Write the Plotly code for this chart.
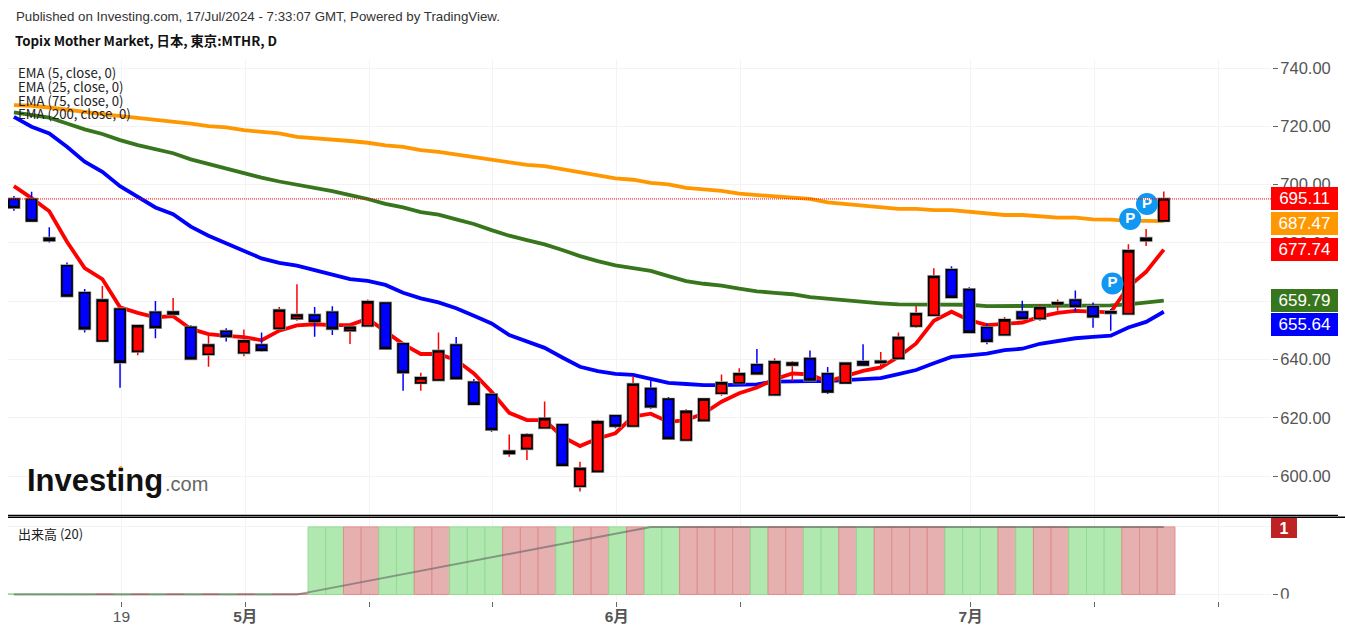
import plotly.graph_objects as go

# daily candles
opens = [695.1, 695.0, 681.6, 672.2, 662.9, 646.4, 657.3, 642.8, 656.2, 655.6, 651.1, 641.8, 649.7, 642.3, 645.0, 650.7,
         654.1, 655.3, 656.2, 650.0, 651.6, 659.4, 645.4, 632.0, 633.0, 645.0, 632.2, 628.0, 607.8, 609.4, 616.6, 617.6,
         596.5, 601.6, 620.7, 617.2, 630.0, 626.4, 612.4, 619.1, 628.4, 632.0, 638.2, 627.9, 638.1, 640.3, 635.1, 632.0,
         639.2, 639.0, 640.4, 651.5, 655.2, 670.8, 664.0, 651.0, 648.5, 656.3, 654.1, 659.1, 660.4, 658.2, 656.4, 655.7,
         680.9, 687.6]
closes = [692.2, 687.6, 680.9, 661.8, 650.6, 660.4, 639.1, 651.6, 651.0, 656.3, 640.3, 645.0, 647.9, 646.4, 643.2, 656.9,
          655.3, 653.1, 650.6, 651.1, 659.8, 643.8, 635.6, 633.7, 642.9, 633.5, 624.7, 616.0, 608.5, 614.1, 619.7, 603.7,
          602.6, 618.6, 617.2, 631.5, 623.8, 612.9, 622.2, 626.4, 632.0, 635.1, 635.1, 639.2, 638.8, 633.0, 628.9, 638.7,
          638.1, 639.4, 647.5, 655.7, 668.5, 661.4, 649.4, 646.3, 653.6, 654.1, 657.8, 659.5, 658.2, 654.7, 656.0, 677.3,
          681.6, 695.11]
highs = [696.1, 697.6, 685.4, 673.3, 664.2, 665.2, 657.3, 651.6, 660.1, 661.1, 651.8, 648.2, 650.7, 650.3, 649.3, 658.0,
         665.8, 658.0, 658.3, 651.1, 660.6, 659.6, 645.4, 635.5, 649.3, 647.7, 633.3, 628.0, 614.3, 614.7, 625.6, 617.6,
         604.9, 619.3, 620.7, 634.3, 632.9, 627.1, 622.9, 626.7, 634.9, 637.0, 643.6, 640.4, 639.5, 643.1, 637.4, 638.9,
         645.2, 642.6, 649.3, 658.4, 671.3, 672.0, 664.8, 652.4, 654.6, 660.2, 659.0, 660.6, 663.7, 659.6, 657.3, 679.6,
         684.8, 697.7]
lows = [691.1, 687.6, 680.2, 661.5, 649.3, 646.4, 630.3, 641.5, 647.3, 655.6, 640.3, 637.5, 646.2, 641.1, 642.7, 650.7,
        653.3, 647.8, 648.4, 645.3, 651.6, 643.8, 629.3, 629.3, 633.0, 633.5, 624.7, 615.2, 606.6, 605.5, 616.6, 603.7,
        594.7, 601.6, 616.4, 617.2, 623.1, 612.9, 612.4, 619.1, 627.6, 632.0, 635.1, 627.9, 632.6, 633.0, 628.2, 632.0,
        638.1, 636.6, 640.4, 650.9, 655.2, 661.4, 649.4, 645.2, 648.5, 654.1, 653.3, 656.7, 656.5, 650.9, 649.9, 655.7,
        679.0, 687.6]

ema5 = [699.5, 695.4, 690.9, 680.4, 671.4, 667.6, 657.9, 656.0, 654.5, 654.9, 650.5, 648.7, 648.1, 647.7, 646.6, 649.9,
        651.7, 652.1, 651.8, 651.8, 654.0, 649.5, 645.3, 641.9, 641.9, 639.8, 635.2, 628.9, 621.7, 619.2, 619.2, 613.5,
        610.3, 612.9, 614.7, 620.4, 621.4, 618.6, 619.2, 621.5, 625.5, 628.4, 630.4, 633.2, 635.2, 634.9, 632.4, 634.3,
        636.1, 637.3, 640.9, 645.5, 653.3, 656.4, 653.5, 651.8, 652.2, 652.7, 654.7, 656.0, 656.7, 656.4, 656.2, 665.0,
        670.1, 677.74]
ema25 = [723.3, 719.9, 717.6, 713.0, 707.9, 704.4, 699.5, 695.9, 692.2, 689.9, 685.6, 682.5, 679.9, 677.2, 674.7, 673.2,
         672.2, 670.7, 669.2, 667.6, 667.0, 665.6, 662.9, 661.0, 659.6, 657.6, 655.0, 652.4, 648.4, 646.1, 644.0, 640.7,
         637.5, 636.0, 635.1, 634.7, 633.5, 632.0, 631.6, 631.2, 631.2, 631.3, 631.5, 632.4, 632.6, 632.6, 632.6, 632.9,
         633.5, 633.6, 635.0, 636.4, 638.7, 640.9, 641.4, 642.0, 643.2, 643.7, 645.4, 646.4, 647.3, 647.8, 648.2, 651.0,
         652.9, 656.4]
ema75 = [724.8, 723.9, 723.0, 721.0, 719.0, 717.4, 715.3, 713.6, 712.1, 710.8, 708.7, 707.1, 705.5, 703.9, 702.4, 701.1,
         700.1, 699.1, 697.8, 696.4, 695.1, 693.4, 692.2, 690.6, 689.7, 688.1, 686.5, 684.4, 682.5, 681.0, 679.5, 677.6,
         675.5, 673.8, 672.3, 671.4, 670.4, 668.6, 666.9, 666.0, 665.4, 664.3, 663.4, 662.9, 662.4, 661.4, 660.8, 660.3,
         659.7, 659.3, 658.9, 658.8, 658.8, 658.8, 658.8, 658.3, 658.3, 658.3, 658.4, 658.4, 658.4, 658.4, 658.6, 658.9,
         659.4, 660.2]
ema200 = [727.3, 727.1, 726.5, 725.9, 725.0, 724.2, 723.6, 723.0, 722.2, 721.6, 721.0, 720.1, 719.7, 718.7, 718.3, 717.6,
          716.4, 716.0, 715.5, 715.0, 714.4, 713.5, 713.0, 711.9, 711.3, 710.4, 709.8, 708.8, 707.9, 706.8, 706.4, 705.4,
          704.4, 703.3, 702.2, 701.7, 700.6, 700.1, 698.9, 698.4, 697.9, 696.9, 696.5, 696.1, 695.8, 695.1, 693.9, 693.4,
          692.8, 692.2, 691.7, 691.7, 691.3, 691.3, 690.8, 690.2, 689.6, 689.6, 689.1, 688.7, 688.7, 688.1, 688.0, 687.6,
          687.6, 687.47]

volume = [0.01] * 17 + [1.0] * 49
volume_ma = [0, 0, 0, 0, 0, 0, 0, 0, 0, 0, 0, 0, 0, 0, 0, 0, 0, 0.05, 0.1, 0.15, 0.2, 0.25, 0.3, 0.35, 0.4, 0.45, 0.5,
             0.55, 0.6, 0.65, 0.7, 0.75, 0.8, 0.85, 0.9, 0.95, 1, 1, 1, 1, 1, 1, 1, 1, 1, 1, 1, 1, 1, 1, 1, 1, 1, 1, 1,
             1, 1, 1, 1, 1, 1, 1, 1, 1, 1, 1]

p_days = [62.1, 63.1, 64.05]
p_prices = [666.1, 688.2, 693.4]

tick_days = [6, 13, 20, 27, 34, 41, 54, 61, 68]
tick_labels = ["19", "<b>5月</b>", "", "", "<b>6月</b>", "", "<b>7月</b>", "", ""]
price_ticks = [600, 620, 640, 660, 680, 700, 720, 740]

last_prices = [695.11, 687.47, 677.74, 659.79, 655.64]
last_colors = ["#ff0000", "#ff9800", "#ff0000", "#38761d", "#0000ff"]
last_shifts = [0, -2, 0, 1, -11]

ema_names = ["EMA (5, close, 0)", "EMA (25, close, 0)", "EMA (75, close, 0)", "EMA (200, close, 0)"]

days = list(range(66))
FONT = "Liberation Sans, Noto Sans CJK JP"
CJK = "Noto Sans CJK JP"
GRID = "#f3f3f3"
AXIS = "#666666"


def px(x):
    return (x - 8) / 1263


def py(y):
    return (600 - y) / 540


fig = go.Figure()

# moving averages sit under the candles
for values, color in zip([ema200, ema75, ema25, ema5], ["#ff9800", "#38761d", "#0000ff", "#ff0000"]):
    fig.add_trace(go.Scatter(x=days, y=values, mode="lines", line=dict(color=color, width=3.8), zorder=0))

body_top = [max(o, c) for o, c in zip(opens, closes)]
body_low = [min(o, c) for o, c in zip(opens, closes)]

# wicks keep the candle colour, bodies get a black outline
fig.add_trace(go.Candlestick(
    x=days, open=opens, high=highs, low=lows, close=closes, zorder=1,
    increasing=dict(line=dict(color="#ff0000", width=1.5), fillcolor="#ff0000"),
    decreasing=dict(line=dict(color="#0000ff", width=1.5), fillcolor="#0000ff"),
))
fig.add_trace(go.Candlestick(
    x=days, open=opens, high=body_top, low=body_low, close=closes, zorder=2,
    increasing=dict(line=dict(color="#9a9a9a", width=3), fillcolor="#ff0000"),
    decreasing=dict(line=dict(color="#9a9a9a", width=3), fillcolor="#0000ff"),
))
fig.add_trace(go.Candlestick(
    x=days, open=opens, high=body_top, low=body_low, close=closes, zorder=3,
    increasing=dict(line=dict(color="#000000", width=1.6), fillcolor="#ff0000"),
    decreasing=dict(line=dict(color="#000000", width=1.6), fillcolor="#0000ff"),
))

fig.add_trace(go.Scatter(
    x=p_days, y=p_prices, mode="markers+text", text=["P", "P", "P"], zorder=5,
    marker=dict(size=22, color="#0f97f2"), textposition="middle center",
    textfont=dict(family="Liberation Sans", size=15, color="white", weight="bold"),
))

# volume pane
vol_fill = ["#e6b0b0" if c > o else "#b0e8b0" for o, c in zip(opens, closes)]
vol_edge = ["#e08c8c" if c > o else "#90dc90" for o, c in zip(opens, closes)]
fig.add_trace(go.Bar(
    x=days, y=volume, width=1, offset=-0.37, xaxis="x2", yaxis="y2",
    marker=dict(color=vol_fill, line=dict(color=vol_edge, width=1)),
))
fig.add_trace(go.Scatter(
    x=days, y=volume_ma, mode="lines", xaxis="x2", yaxis="y2",
    line=dict(color="rgba(90,90,90,0.55)", width=2),
))

annotations = [
    dict(x=px(16), y=py(17), text="Published on Investing.com, 17/Jul/2024 - 7:33:07 GMT, Powered by TradingView.",
         font=dict(family=FONT, size=13.3, color="#333333")),
    dict(x=px(15), y=py(40), text="<b>Topix Mother Market, 日本, 東京:MTHR, D</b>",
         font=dict(family=CJK, size=13.3, color="#111111")),
    dict(x=px(18), y=py(533), text="出来高 (20)", font=dict(family=CJK, size=13, color="#222222")),
    dict(x=px(27), y=py(480), text="<b>Investing</b>", font=dict(family="Liberation Sans", size=31, color="#111111")),
    dict(x=px(165), y=py(484), text=".com", font=dict(family="Liberation Sans", size=20, color="#666666")),
]
for name, top in zip(ema_names, [73, 86, 100, 114]):
    annotations.append(dict(x=px(18), y=py(top), text=name, font=dict(family=CJK, size=13.2, color="#222222")))
for a in annotations:
    a.update(xref="paper", yref="paper", xanchor="left", yanchor="middle", showarrow=False, borderpad=0, borderwidth=0)

# last value flags on the price scale
for price, color, shift in zip(last_prices, last_colors, last_shifts):
    annotations.append(dict(
        x=1, xref="paper", y=price, yref="y", yshift=shift, xanchor="left", yanchor="middle",
        text=f"{price:.2f}", showarrow=False, width=67, height=23, bgcolor=color, borderpad=0, borderwidth=0,
        font=dict(family="Liberation Sans", size=17, color="white"),
    ))
annotations.append(dict(
    x=1, xref="paper", y=py(528), yref="paper", xanchor="left", yanchor="middle", text="<b>1</b>", showarrow=False,
    width=26, height=20, bgcolor="#bf2222", borderpad=0, borderwidth=0,
    font=dict(family="Liberation Sans", size=16, color="white"),
))

shapes = [
    dict(type="line", xref="paper", x0=0, x1=1, yref="y", y0=695.11, y1=695.11,
         line=dict(color="#ff0000", width=1, dash="1px,1px")),
    dict(type="line", xref="paper", x0=0, x1=px(1338), yref="paper", y0=py(515.4), y1=py(515.4),
         line=dict(color="#000000", width=1.4)),
    dict(type="line", xref="paper", x0=0, x1=px(1345), yref="paper", y0=py(517.2), y1=py(517.2),
         line=dict(color="#000000", width=1.4)),
    # the bottom of the pane cuts the 0 label
    dict(type="rect", xref="paper", x0=px(1274), x1=px(1300), yref="paper", y0=py(598.5), y1=py(604),
         fillcolor="white", line=dict(width=0)),
    # orange dot of the logo
    dict(type="circle", xref="paper", x0=px(118.5), x1=px(123), yref="paper", y0=py(466), y1=py(471),
         fillcolor="#f7941d", line=dict(width=0)),
]

fig.update_layout(
    width=1345,
    height=633,
    margin=dict(l=8, r=74, t=60, b=33, autoexpand=False),
    plot_bgcolor="white",
    paper_bgcolor="white",
    showlegend=False,
    annotations=annotations,
    shapes=shapes,
    boxgap=0.18,
    xaxis=dict(
        range=[-0.3335, 71.06], domain=[0, 1], anchor="y", rangeslider=dict(visible=False), showticklabels=False,
        tickmode="array", tickvals=[d + 0.08 for d in tick_days], showgrid=True, gridcolor=GRID, zeroline=False,
        automargin=False,
    ),
    xaxis2=dict(
        range=[-0.3335, 71.06], domain=[0, 1], anchor="y2", tickmode="array", tickvals=[d + 0.08 for d in tick_days],
        ticktext=tick_labels, ticks="outside", ticklen=5, tickcolor=AXIS, tickwidth=1, showgrid=True, gridcolor=GRID,
        showline=True, linecolor=AXIS, linewidth=2, zeroline=False, automargin=False, ticklabelstandoff=-4,
        tickfont=dict(family=FONT, size=15.5, color="#555555"),
    ),
    yaxis=dict(
        range=[586.3, 742.8], domain=[0.1556, 1], anchor="x", side="right", tickmode="array", tickvals=price_ticks,
        tickformat=".2f", ticks="outside", ticklen=5, tickcolor=AXIS, showgrid=True, gridcolor=GRID, showline=True,
        linecolor=AXIS, linewidth=2, zeroline=False, automargin=False, ticklabelstandoff=-1,
        tickfont=dict(family=FONT, size=16.5, color="#555555"),
    ),
    yaxis2=dict(
        range=[-0.0815, 1.133], domain=[0, 0.152], anchor="x2", side="right", tickmode="array", tickvals=[0, 1],
        ticktext=["0", ""], ticks="outside", ticklen=5, tickcolor=AXIS, showgrid=True, gridcolor=GRID, showline=True,
        linecolor=AXIS, linewidth=2, zeroline=False, automargin=False, ticklabelstandoff=-1,
        tickfont=dict(family=FONT, size=16.5, color="#555555"),
    ),
)

fig.write_html(
    "out.html",
    config={"displayModeBar": False},
    post_script="document.body.style.margin='0';document.documentElement.style.overflow='hidden';",
)
